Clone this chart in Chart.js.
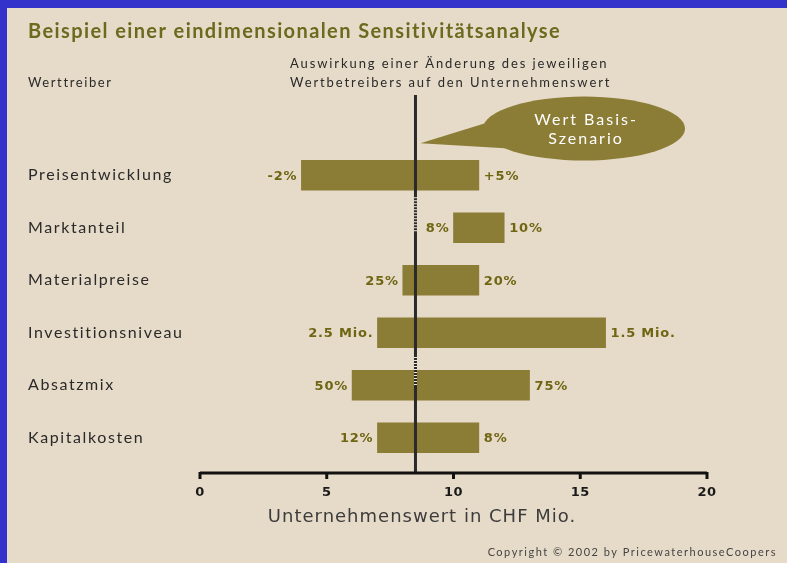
<!DOCTYPE html>
<html>
<head>
<meta charset="utf-8">
<script src="https://cdn.jsdelivr.net/npm/chart.js@4"></script>
<style>
  html, body { margin: 0; padding: 0; }
  body { width: 787px; height: 563px; background: #3333cc; position: relative; overflow: hidden; }
  #panel { position: absolute; left: 7px; top: 8px; right: 0; bottom: 0; background: #e6dbc8; }
  #chart { position: absolute; left: 0; top: 0; }
</style>
</head>
<body>
<div id="panel"></div>
<canvas id="chart" width="787" height="563"></canvas>
<script>
const drivers = ['Preisentwicklung', 'Marktanteil', 'Materialpreise', 'Investitionsniveau', 'Absatzmix', 'Kapitalkosten'];
const lowValues = [4, 10, 8, 7, 6, 7];
const highValues = [11, 12, 11, 16, 13, 11];
const lowLabels = ['-2%', '8%', '25%', '2.5 Mio.', '50%', '12%'];
const highLabels = ['+5%', '10%', '20%', '1.5 Mio.', '75%', '8%'];
const baseValue = 8.5;
const xTicks = [0, 5, 10, 15, 20];

const olive = '#8b7c36';
const oliveText = '#6f6512';
const ink = '#2a2a2a';

let ctx = document.getElementById('chart');

// wide letter spacing for the category names drawn by the y axis
const spacing = {
  id: 'spacing',
  beforeDraw(chart) { chart.ctx.letterSpacing = '1.6px'; },
  afterDraw(chart) { chart.ctx.letterSpacing = '0px'; },
};

function text(c, str, x, y, font, spacingPx) {
  c.font = font;
  c.letterSpacing = spacingPx + 'px';
  c.fillText(str, x, y);
}

// title, header texts, axis, base line, bubble and bar labels
const decor = {
  id: 'decor',
  afterDatasetsDraw(chart) {
    const c = chart.ctx;
    const x = chart.scales.x;
    const y = chart.scales.y;
    const area = chart.chartArea;
    c.save();

    c.fillStyle = '#6b6a1e';
    c.textBaseline = 'alphabetic';
    c.textAlign = 'left';
    text(c, 'Beispiel einer eindimensionalen Sensitivitätsanalyse', 28, 38, 'bold 20px Lato', 1.4);

    c.fillStyle = ink;
    text(c, 'Werttreiber', 28, 87, '13px Lato', 1.6);
    text(c, 'Auswirkung einer Änderung des jeweiligen', 290, 68, '13px Lato', 1.9);
    text(c, 'Wertbetreibers auf den Unternehmenswert', 290, 87, '13px Lato', 1.9);

    // bar end labels
    const meta = chart.getDatasetMeta(0);
    c.fillStyle = oliveText;
    c.textBaseline = 'middle';
    meta.data.forEach((bar, i) => {
      const left = Math.min(bar.x, bar.base);
      const right = Math.max(bar.x, bar.base);
      c.textAlign = 'right';
      text(c, lowLabels[i], left - 4, bar.y + 1, 'bold 13px "DejaVu Sans"', 0.8);
      c.textAlign = 'left';
      text(c, highLabels[i], right + 5, bar.y + 1, 'bold 13px "DejaVu Sans"', 0.8);
    });

    // base scenario line
    const bx = x.getPixelForValue(baseValue);
    const axisY = area.bottom + 9;
    const dashed = [[0.42, 1.08], [3.46, 4.0]];
    c.strokeStyle = ink;
    c.lineWidth = 3;
    c.beginPath();
    c.moveTo(bx, 95);
    c.lineTo(bx, axisY);
    c.stroke();
    c.strokeStyle = '#f2ece0';
    c.setLineDash([1, 2]);
    dashed.forEach(([a, b]) => {
      c.beginPath();
      c.moveTo(bx, y.getPixelForValue(a));
      c.lineTo(bx, y.getPixelForValue(b));
      c.stroke();
    });
    c.setLineDash([]);

    // bubble
    const ex = x.getPixelForValue(15.15);
    const ey = y.getPixelForValue(-0.89);
    c.fillStyle = olive;
    c.beginPath();
    c.moveTo(bx + 5, y.getPixelForValue(-0.61));
    c.lineTo(ex - 90, ey - 8);
    c.lineTo(ex - 75, ey + 20);
    c.closePath();
    c.fill();
    c.beginPath();
    c.ellipse(ex, ey, 101, 32, 0, 0, Math.PI * 2);
    c.fill();
    c.fillStyle = '#ffffff';
    c.textAlign = 'center';
    c.textBaseline = 'middle';
    text(c, 'Wert Basis-', ex + 2, ey - 9, '16px Lato', 2);
    text(c, 'Szenario', ex + 2, ey + 10, '16px Lato', 2);

    // x axis
    c.strokeStyle = '#111';
    c.lineWidth = 3;
    c.beginPath();
    c.moveTo(x.getPixelForValue(0), axisY);
    c.lineTo(x.getPixelForValue(20), axisY);
    c.stroke();
    c.fillStyle = '#1a1a1a';
    xTicks.forEach((t) => {
      const px = x.getPixelForValue(t);
      c.beginPath();
      c.moveTo(px, axisY - 1);
      c.lineTo(px, axisY + 6);
      c.stroke();
      text(c, String(t), px, axisY + 20, 'bold 13px "DejaVu Sans"', 0.5);
    });
    c.fillStyle = '#3c3c3c';
    text(c, 'Unternehmenswert in CHF Mio.', 422, axisY + 44, '18px "DejaVu Sans"', 1);

    c.fillStyle = '#444';
    c.textAlign = 'right';
    text(c, 'Copyright © 2002 by PricewaterhouseCoopers', 777, 552, '11px Lato', 1.5);
    c.restore();
  },
};

new Chart(ctx, {
  type: 'bar',
  data: {
    labels: drivers,
    datasets: [
      {
        data: drivers.map((d, i) => [lowValues[i], highValues[i]]),
        backgroundColor: olive,
        borderWidth: 0,
        borderSkipped: false,
        barThickness: 30,
      },
    ],
  },
  options: {
    indexAxis: 'y',
    responsive: false,
    animation: false,
    layout: { padding: { left: 28, right: 80, top: 149, bottom: 99 } },
    plugins: { legend: { display: false }, title: { display: false }, tooltip: { enabled: false } },
    scales: {
      x: { min: 0, max: 20, display: false },
      y: {
        grid: { display: false },
        border: { display: false },
        afterFit: (scale) => { scale.width = 172; },
        ticks: {
          crossAlign: 'far',
          color: ink,
          font: { family: 'Lato', size: 16 },
        },
      },
    },
  },
  plugins: [spacing, decor],
});
</script>
</body>
</html>
